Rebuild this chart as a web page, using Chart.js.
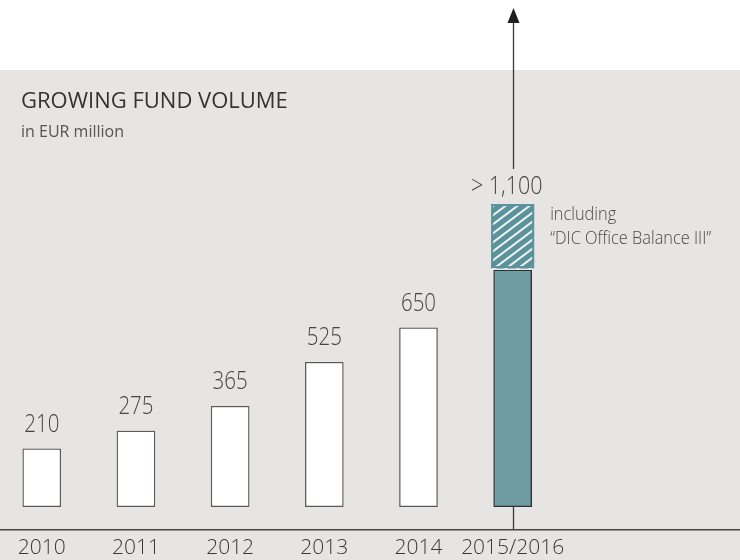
<!DOCTYPE html>
<html>
<head>
<meta charset="utf-8">
<script src="https://cdn.jsdelivr.net/npm/chart.js@4"></script>
<style>
  html, body { margin: 0; padding: 0; background: #ffffff; overflow: hidden; }
  #wrap { width: 740px; height: 560px; }
</style>
</head>
<body>
<div id="wrap"><canvas id="c" width="740" height="560"></canvas></div>
<script>
// ---- data ----
const years = ['2010', '2011', '2012', '2013', '2014', '2015/2016'];
const volumes = [210, 275, 365, 525, 650, 860];
const extraVolume = [null, null, null, null, null, 240];
const valueLabels = ['210', '275', '365', '525', '650', '> 1,100'];
const titleText = 'GROWING FUND VOLUME';
const subtitleText = 'in EUR million';
const noteLines = ['including', '\u201CDIC Office Balance III\u201D'];

// ---- styles ----
const BG_GRAY = '#e6e5e3';
const TEAL = '#6f9ba3';
const TEAL_HATCH = '#5b929b';
const SANS = '"Open Sans", "Noto Sans", sans-serif';

function makeHatch() {
  const w = 12, h = 9;
  const c = document.createElement('canvas');
  c.width = w; c.height = h;
  const g = c.getContext('2d');
  g.fillStyle = TEAL_HATCH;
  g.fillRect(0, 0, w, h);
  g.strokeStyle = 'rgba(255,255,255,0.9)';
  g.lineWidth = 2;
  for (let k = -1; k <= 1; k++) {
    g.beginPath();
    g.moveTo(-w + k * w, 2 * h);
    g.lineTo(2 * w + k * w, -h);
    g.stroke();
  }
  return document.getElementById('c').getContext('2d').createPattern(c, 'repeat');
}

const lastIdx = years.length - 1;

function condensedText(ctx, text, x, y, sx, align) {
  ctx.save();
  ctx.translate(x, y);
  ctx.scale(sx, 1);
  ctx.textAlign = align;
  ctx.fillText(text, 0, 0);
  ctx.restore();
}

const decor = {
  id: 'decor',
  beforeDraw(chart) {
    const ctx = chart.ctx;
    ctx.save();
    ctx.fillStyle = '#ffffff';
    ctx.fillRect(0, 0, chart.width, chart.height);
    ctx.fillStyle = BG_GRAY;
    ctx.fillRect(0, 70, chart.width, chart.height - 70);
    ctx.fillStyle = '#333333';
    ctx.font = '22px ' + SANS;
    ctx.textBaseline = 'alphabetic';
    ctx.textAlign = 'left';
    ctx.fillText(titleText, 21, 108);
    ctx.fillStyle = '#555555';
    ctx.font = '16px ' + SANS;
    ctx.fillText(subtitleText, 21, 137);
    ctx.restore();
  },
  afterDatasetsDraw(chart) {
    const ctx = chart.ctx;
    const base = chart.getDatasetMeta(0).data;
    const hatch = chart.getDatasetMeta(1).data;
    const topEl = hatch[lastIdx];
    ctx.save();

    // rough outline of the hatched block
    ctx.strokeStyle = TEAL_HATCH;
    ctx.lineWidth = 2;
    ctx.strokeRect(topEl.x - topEl.width / 2 + 1, topEl.y + 1, topEl.width - 2, topEl.base - topEl.y - 4);

    ctx.fillStyle = '#454545';
    ctx.font = '300 25px ' + SANS;
    ctx.textBaseline = 'alphabetic';
    for (let i = 0; i < lastIdx; i++) {
      const el = base[i];
      condensedText(ctx, valueLabels[i], el.x, el.y - 17, 0.82, 'center');
    }
    const lblY = topEl.y - 10;
    condensedText(ctx, valueLabels[lastIdx], topEl.x - 6, lblY, 0.86, 'center');

    // notes
    ctx.fillStyle = '#4a4a4a';
    ctx.font = '300 19px ' + SANS;
    const nx = topEl.x + topEl.width / 2 + 16;
    condensedText(ctx, noteLines[0], nx, topEl.y + 16, 0.86, 'left');
    condensedText(ctx, noteLines[1], nx, topEl.y + 40, 0.86, 'left');

    // arrow
    const ax = Math.round(topEl.x) + 0.5;
    ctx.strokeStyle = '#3a3a3a';
    ctx.lineWidth = 1.3;
    ctx.beginPath();
    ctx.moveTo(ax, 20);
    ctx.lineTo(ax, lblY - 25);
    ctx.stroke();
    const bEl = base[lastIdx];
    ctx.beginPath();
    ctx.moveTo(ax, bEl.base);
    ctx.lineTo(ax, chart.chartArea.bottom);
    ctx.stroke();
    ctx.fillStyle = '#1e1e1e';
    ctx.beginPath();
    ctx.moveTo(ax, 8);
    ctx.lineTo(ax - 6, 23);
    ctx.lineTo(ax + 6, 23);
    ctx.closePath();
    ctx.fill();
    ctx.restore();
  }
};

const chart = new Chart(document.getElementById('c'), {
  type: 'bar',
  data: {
    datasets: [
      {
        label: 'Fund volume',
        data: volumes.map((v, i) => ({ x: i, y: v })),
        backgroundColor: volumes.map((v, i) => i === lastIdx ? TEAL : '#ffffff'),
        borderColor: volumes.map((v, i) => i === lastIdx ? '#2f2f2f' : '#5a5a5a'),
        borderWidth: 1.3,
        borderSkipped: false,
        barThickness: 38
      },
      {
        label: 'DIC Office Balance III',
        data: extraVolume.map((v, i) => ({ x: i, y: v })),
        backgroundColor: makeHatch(),
        borderColor: '#f4f4f2',
        borderWidth: { top: 0, left: 0, right: 0, bottom: 2 },
        borderSkipped: false,
        barThickness: 43
      }
    ]
  },
  options: {
    responsive: false,
    animation: false,
    devicePixelRatio: 1,
    layout: { padding: 0 },
    datasets: { bar: { grouped: false } },
    plugins: {
      legend: { display: false },
      tooltip: { enabled: false },
      title: { display: false }
    },
    scales: {
      x: {
        type: 'linear',
        offset: false,
        min: -0.4437,
        max: 7.414,
        grid: { display: false },
        border: { display: true, color: '#444444', width: 1.5 },
        ticks: {
          stepSize: 1,
          includeBounds: false,
          autoSkip: false,
          maxRotation: 0,
          padding: -3,
          color: '#3a3a3a',
          font: { family: SANS, size: 21, weight: 300 },
          callback: (v) => Number.isInteger(v) && years[v] ? years[v] : ''
        },
        afterFit: (s) => { s.height = 30; }
      },
      y: {
        display: false,
        stacked: true,
        min: -85,
        max: 1842
      }
    }
  },
  plugins: [decor]
});
</script>
</body>
</html>
